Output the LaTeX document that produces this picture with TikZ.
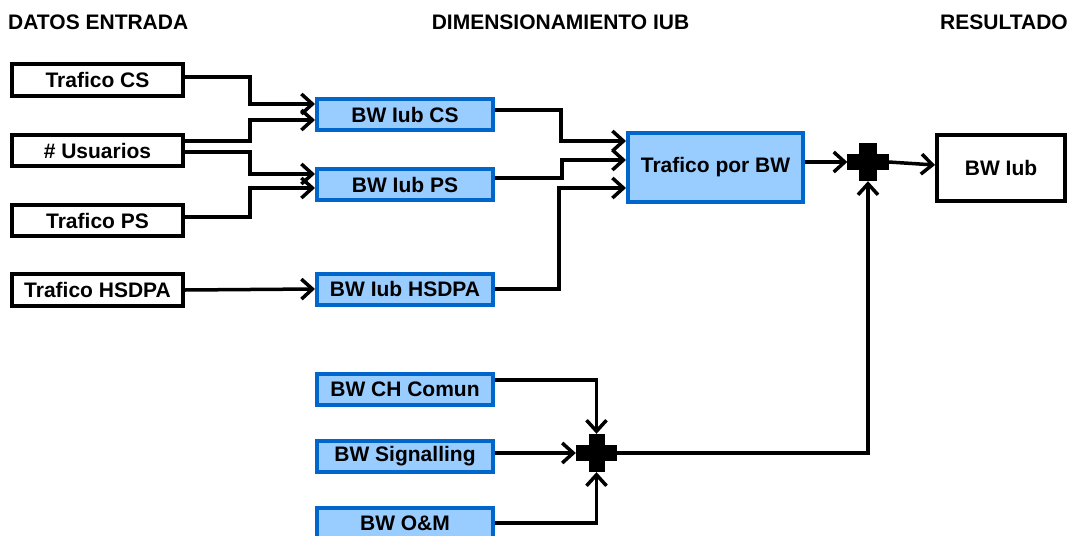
\documentclass[tikz,border=0pt]{standalone}
\usepackage{fontspec}
\setmainfont{Liberation Sans}
\usetikzlibrary{arrows.meta}
\definecolor{boxfill}{HTML}{99CCFF}
\definecolor{boxline}{HTML}{0066CC}
\begin{document}
\begin{tikzpicture}[x=1pt,y=-1pt,
  every node/.style={font=\fontsize{21}{24}\selectfont\bfseries},
  inbox/.style={draw=black,line width=4pt,fill=white,minimum width=171pt,minimum height=31.5pt,inner sep=0pt},
  bwbox/.style={draw=boxline,fill=boxfill,line width=4pt,minimum width=176pt,minimum height=31pt,inner sep=0pt},
  hdr/.style={inner sep=0pt},
  arr/.style={line width=3.5pt,-{Straight Barb[length=11pt,width=20pt]}},
  plus/.style={minimum width=41pt,minimum height=38pt,inner sep=0pt}
]
\useasboundingbox (0,0) rectangle (1075,535);
\fill[white] (0,0) rectangle (1075,535);

% headers
\node[hdr,anchor=base west] (h1) at (8,30) {DATOS ENTRADA};
\node[hdr,anchor=base] (h2) at (560.5,30) {DIMENSIONAMIENTO IUB};
\node[hdr,anchor=base west] (h3) at (940,30) {RESULTADO};

% input boxes
\node[inbox] (tcs) at (97.5,80) {Trafico CS};
\node[inbox] (tus) at (97.5,150.5) {\# Usuarios};
\node[inbox] (tps) at (97.5,220.5) {Trafico PS};
\node[inbox] (ths) at (97.5,290) {Trafico HSDPA};

% BW boxes
\node[bwbox] (bcs) at (405,114.5) {BW Iub CS};
\node[bwbox] (bps) at (405,184.5) {BW Iub PS};
\node[bwbox] (bhs) at (405,289) {BW Iub HSDPA};
\node[bwbox,minimum width=175pt,minimum height=69pt] (tbw) at (715.5,167.5) {Trafico por BW};
\node[inbox,minimum width=128pt,minimum height=66pt] (res) at (1001,168) {BW Iub};
\node[bwbox] (bch) at (405,389.5) {BW CH Comun};
\node[bwbox] (bsig) at (405,456.5) {BW Signalling};
\node[bwbox] (bom) at (405,523) {BW O\&M};

% plus nodes
\node[plus] (p1) at (868,162) {};
\node[plus] (p2) at (596.5,453) {};

% connectors
\draw[arr] ([yshift=3pt]tcs.east) -- ++(65,0) |- ([yshift=10.5pt]bcs.west);
\draw[arr] ([yshift=9.5pt]tus.east) -- ++(65,0) |- ([yshift=-5.5pt]bcs.west);
\draw[arr] ([yshift=-1.5pt]tus.east) -- ++(65,0) |- ([yshift=10.5pt]bps.west);
\draw[arr] ([yshift=3.5pt]tps.east) -- ++(65,0) |- ([yshift=-3.5pt]bps.west);
\draw[arr] (ths.east) -- (bhs.west);

\draw[arr] ([yshift=4.5pt]bcs.east) -- ++(66,0) |- ([yshift=26.5pt]tbw.west);
\draw[arr] ([yshift=6.5pt]bps.east) -- ++(67,0) |- ([yshift=7.5pt]tbw.west);
\draw[arr] (bhs.east) -- ++(64,0) |- ([yshift=-20.5pt]tbw.west);

\draw[arr] (tbw.east |- p1.west) -- (p1.west);
\draw[arr] (p1.east) -- ([yshift=3pt]res.west);

\draw[arr] ([yshift=9.5pt]bch.east) -| (p2.north);
\draw[arr] (bsig.east |- p2.west) -- (p2.west);
\draw[arr] (bom.east) -| (p2.south);
\draw[arr] (p2.east) -| (p1.south);

% plus glyphs
\fill ([yshift=8pt]p1.west) rectangle ([yshift=-8pt]p1.east);
\fill ([xshift=-9pt]p1.north) rectangle ([xshift=9pt]p1.south);
\fill ([yshift=8pt]p2.west) rectangle ([yshift=-8pt]p2.east);
\fill ([xshift=-8pt]p2.north) rectangle ([xshift=8pt]p2.south);
\end{tikzpicture}
\end{document}
